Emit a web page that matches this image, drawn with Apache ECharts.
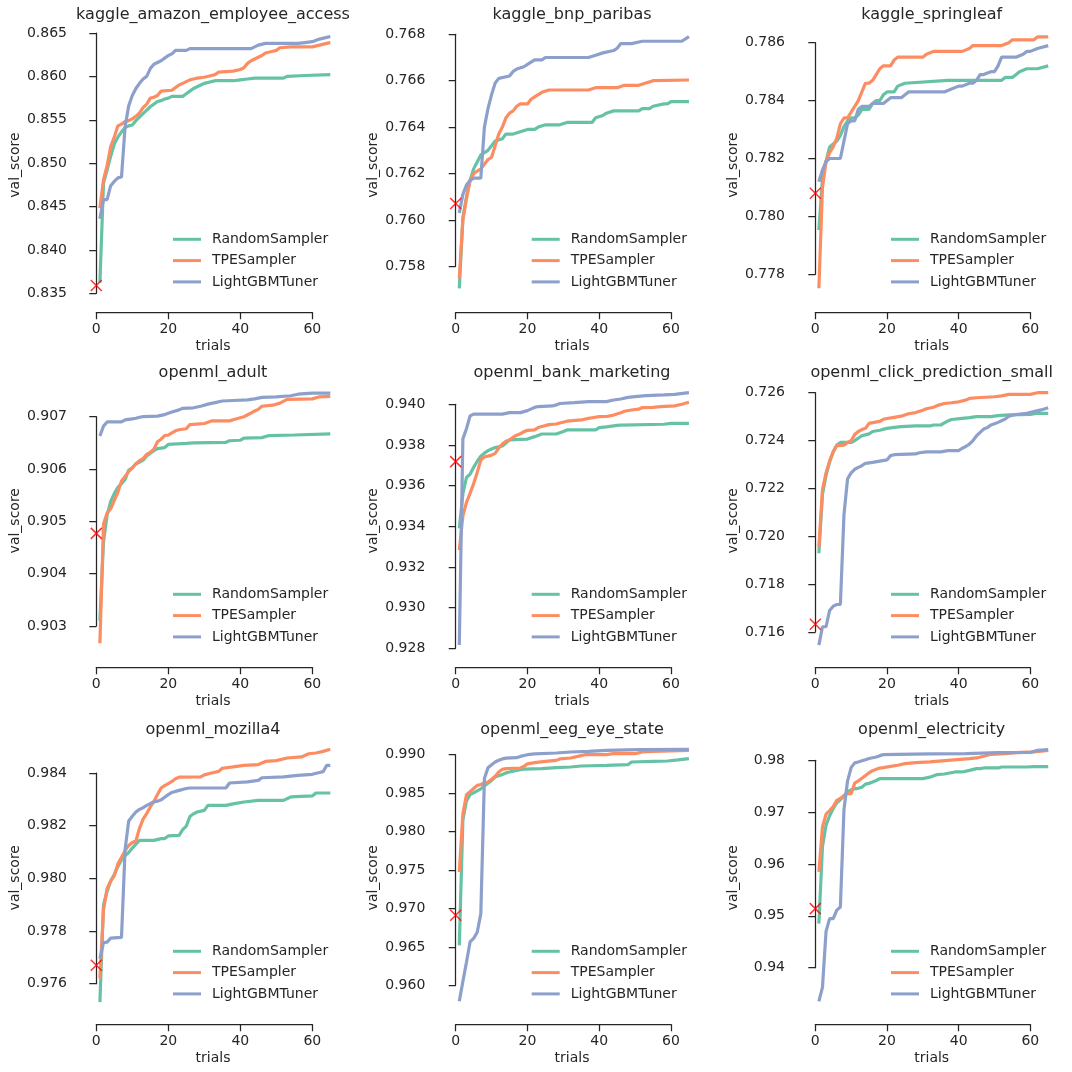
<!DOCTYPE html>
<html>
<head>
<meta charset="utf-8">
<script src="https://cdn.jsdelivr.net/npm/echarts@6/dist/echarts.min.js"></script>
<style>
  html, body { margin: 0; padding: 0; background: #ffffff; }
  #chart { width: 1072px; height: 1072px; }
</style>
</head>
<body>
<div id="chart"></div>
<script>
// ---- data ----
var datasets = ['kaggle_amazon_employee_access', 'kaggle_bnp_paribas', 'kaggle_springleaf',
                'openml_adult', 'openml_bank_marketing', 'openml_click_prediction_small',
                'openml_mozilla4', 'openml_eeg_eye_state', 'openml_electricity'];
var samplers = ['RandomSampler', 'TPESampler', 'LightGBMTuner'];
var xTicks = [0, 20, 40, 60];
var lastTrial = 65;
var yMin  = [0.835, 0.758, 0.778, 0.903, 0.928, 0.716, 0.976, 0.960, 0.94];
var yMax  = [0.865, 0.768, 0.786, 0.907, 0.940, 0.726, 0.984, 0.990, 0.98];
var yStep = [0.005, 0.002, 0.002, 0.001, 0.002, 0.002, 0.002, 0.005, 0.01];
var yDecimals = [3, 3, 3, 3, 3, 3, 3, 3, 2];
// score of the default model, drawn as a red cross at trial 0
var baseline = [0.8359, 0.76071, 0.78080, 0.90477, 0.93718, 0.71632, 0.97670, 0.96911, 0.95139];

// [trial, best val_score so far]
var amazonRandom = [[1,0.8362],[2,0.8477],[3,0.8492],[4,0.8508],[5,0.8522],[6,0.8530],[7,0.8536],[8,0.8541],[9,0.8543],[10,0.8544],[11,0.8549],[12,0.8553],[13,0.8557],[14,0.8561],[15,0.8565],[16,0.8568],[17,0.8571],[18,0.8572],[19,0.8574],[20,0.8575],[21,0.8577],[24,0.8577],[25,0.8580],[26,0.8583],[27,0.8586],[28,0.8588],[29,0.8590],[30,0.8592],[31,0.8593],[32,0.8594],[33,0.8595],[38,0.8595],[40,0.8596],[42,0.8597],[44,0.8598],[52,0.8598],[53,0.8600],[58,0.8601],[65,0.8602]];
var amazonTPE = [[1,0.8448],[2,0.8481],[3,0.8497],[4,0.8519],[5,0.8530],[6,0.8543],[7,0.8545],[8,0.8548],[9,0.8549],[10,0.8551],[11,0.8554],[12,0.8558],[13,0.8564],[14,0.8568],[15,0.8575],[16,0.8576],[17,0.8578],[18,0.8583],[21,0.8584],[22,0.8587],[23,0.8590],[24,0.8592],[25,0.8594],[26,0.8596],[27,0.8597],[28,0.8598],[30,0.8599],[32,0.8601],[33,0.8602],[34,0.8605],[38,0.8606],[40,0.8608],[41,0.8610],[42,0.8615],[43,0.8618],[44,0.8620],[45,0.8622],[46,0.8624],[47,0.8627],[49,0.8629],[50,0.8630],[51,0.8633],[54,0.8634],[60,0.8634],[62,0.8636],[64,0.8638],[65,0.8639]];
var amazonLGBM = [[1,0.8436],[2,0.8458],[3,0.8458],[4,0.8474],[5,0.8479],[6,0.8483],[7,0.8484],[8,0.8542],[9,0.8566],[10,0.8578],[11,0.8586],[12,0.8592],[13,0.8597],[14,0.8600],[15,0.8609],[16,0.8614],[17,0.8616],[18,0.8618],[19,0.8621],[20,0.8624],[21,0.8626],[22,0.8630],[25,0.8630],[26,0.8632],[43,0.8632],[44,0.8634],[45,0.8636],[47,0.8638],[56,0.8638],[58,0.8639],[60,0.8640],[62,0.8643],[64,0.8645],[65,0.8646]];

var bnpRandom = [[1,0.75705],[2,0.7601],[3,0.7610],[4,0.7617],[5,0.7622],[6,0.7625],[7,0.7628],[8,0.7629],[9,0.7630],[10,0.7632],[11,0.7634],[13,0.7635],[14,0.7637],[16,0.7637],[18,0.7638],[20,0.7639],[22,0.7639],[23,0.7640],[25,0.7641],[29,0.7641],[31,0.7642],[38,0.7642],[39,0.7644],[41,0.7645],[42,0.7646],[44,0.7647],[51,0.7647],[52,0.7648],[54,0.7648],[55,0.7649],[58,0.7650],[59,0.7650],[60,0.7651],[65,0.7651]];
var bnpTPE = [[1,0.75748],[2,0.7600],[3,0.7609],[4,0.7617],[5,0.7620],[6,0.7621],[7,0.7622],[8,0.7624],[9,0.7626],[10,0.7627],[11,0.7632],[12,0.7637],[13,0.7640],[14,0.7644],[15,0.7646],[16,0.7647],[17,0.7649],[18,0.7650],[20,0.7650],[21,0.7652],[22,0.7653],[23,0.7654],[24,0.7655],[26,0.7656],[37,0.7656],[39,0.7657],[45,0.7657],[47,0.7658],[51,0.7658],[53,0.7659],[55,0.7660],[65,0.76603]];
var bnpLGBM = [[1,0.7603],[2,0.7611],[3,0.7615],[4,0.7617],[5,0.7618],[7,0.7618],[8,0.7640],[9,0.7648],[10,0.7654],[11,0.7659],[12,0.7661],[15,0.7662],[16,0.7664],[17,0.7665],[19,0.7666],[20,0.7667],[22,0.7669],[24,0.7669],[25,0.7670],[37,0.7670],[39,0.7671],[41,0.7672],[44,0.7673],[45,0.7674],[46,0.7676],[49,0.7676],[52,0.7677],[63,0.7677],[65,0.7679]];

var springRandom = [[1,0.77953],[2,0.7813],[3,0.7819],[4,0.7824],[5,0.7825],[6,0.7826],[7,0.7828],[8,0.7831],[9,0.7833],[10,0.7834],[11,0.7834],[12,0.7835],[13,0.7837],[15,0.7837],[16,0.7839],[17,0.7840],[18,0.7840],[19,0.7842],[20,0.7843],[22,0.7843],[23,0.7845],[25,0.7846],[37,0.7847],[52,0.7847],[53,0.7848],[55,0.7848],[57,0.7850],[59,0.7851],[62,0.7851],[65,0.7852]];
var springTPE = [[1,0.77752],[2,0.7810],[3,0.7819],[4,0.7822],[5,0.7824],[6,0.7827],[7,0.7832],[8,0.7834],[9,0.7834],[10,0.7836],[11,0.7838],[12,0.7840],[13,0.7843],[14,0.7846],[15,0.7846],[16,0.7847],[17,0.7849],[18,0.7851],[19,0.7852],[21,0.7852],[22,0.7854],[23,0.7855],[30,0.7855],[31,0.7856],[33,0.7857],[41,0.7857],[43,0.7858],[44,0.7859],[52,0.7859],[54,0.7860],[55,0.7861],[61,0.7861],[62,0.7862],[65,0.7862]];
var springLGBM = [[1,0.7812],[2,0.7816],[3,0.7819],[4,0.7820],[7,0.7820],[8,0.7826],[9,0.7832],[10,0.7833],[11,0.7833],[12,0.7837],[13,0.7838],[15,0.7838],[16,0.7839],[19,0.7839],[21,0.7841],[24,0.7841],[26,0.7843],[36,0.7843],[38,0.7844],[40,0.7845],[41,0.7845],[43,0.7846],[44,0.7846],[45,0.7847],[46,0.7849],[47,0.7849],[49,0.7850],[50,0.7850],[51,0.7852],[52,0.7855],[56,0.7855],[58,0.7856],[59,0.7857],[60,0.7857],[62,0.7858],[65,0.7859]];

var adultRandom = [[1,0.9031],[2,0.9046],[3,0.90512],[4,0.90538],[5,0.90553],[6,0.90565],[7,0.90572],[8,0.90580],[9,0.90598],[10,0.90602],[11,0.90610],[12,0.90613],[13,0.90617],[14,0.90625],[15,0.90630],[16,0.90635],[17,0.90639],[19,0.90641],[20,0.90647],[25,0.90649],[27,0.90650],[36,0.90651],[37,0.90654],[40,0.90655],[41,0.90659],[46,0.90660],[48,0.90664],[55,0.90665],[65,0.90667]];
var adultTPE = [[1,0.90267],[2,0.90495],[3,0.90516],[4,0.90524],[5,0.90540],[6,0.90556],[7,0.90577],[8,0.90586],[9,0.90595],[10,0.90602],[11,0.90610],[12,0.90616],[13,0.90620],[14,0.90628],[15,0.90632],[16,0.90638],[17,0.90652],[18,0.90657],[19,0.90664],[20,0.90665],[21,0.90669],[22,0.90673],[23,0.90675],[25,0.90677],[26,0.90685],[30,0.90687],[32,0.90692],[37,0.90692],[39,0.90696],[41,0.90700],[43,0.90707],[44,0.90711],[45,0.90714],[46,0.90720],[49,0.90722],[51,0.90726],[53,0.90733],[60,0.90734],[62,0.90738],[65,0.90739]];
var adultLGBM = [[1,0.90663],[2,0.90682],[3,0.90690],[7,0.90690],[8,0.90694],[10,0.90696],[11,0.90697],[12,0.90699],[13,0.90700],[17,0.90701],[19,0.90704],[21,0.90709],[23,0.90713],[24,0.90716],[27,0.90717],[29,0.90720],[31,0.90724],[33,0.90727],[35,0.90730],[38,0.90731],[42,0.90732],[44,0.90734],[46,0.90737],[50,0.90738],[54,0.90740],[56,0.90743],[60,0.90745],[65,0.90745]];

var bankRandom = [[1,0.93390],[2,0.93560],[3,0.93640],[4,0.93656],[5,0.93690],[6,0.93720],[7,0.93745],[8,0.93760],[9,0.93772],[10,0.93780],[11,0.93787],[13,0.93795],[14,0.93810],[15,0.93825],[20,0.93829],[22,0.93841],[24,0.93854],[28,0.93854],[30,0.93866],[31,0.93874],[39,0.93874],[40,0.93885],[42,0.93889],[45,0.93896],[46,0.93898],[58,0.93902],[60,0.93906],[65,0.93906]];
var bankTPE = [[1,0.93283],[2,0.93450],[3,0.93518],[4,0.93562],[5,0.93610],[6,0.93665],[7,0.93725],[8,0.93742],[9,0.93745],[10,0.93750],[11,0.93759],[12,0.93785],[13,0.93805],[14,0.93818],[15,0.93825],[16,0.93838],[17,0.93848],[18,0.93855],[19,0.93865],[20,0.93872],[22,0.93874],[23,0.93886],[24,0.93891],[26,0.93900],[28,0.93903],[29,0.93908],[31,0.93917],[35,0.93923],[37,0.93931],[38,0.93934],[40,0.93939],[42,0.93940],[44,0.93947],[46,0.93958],[47,0.93966],[49,0.93972],[51,0.93976],[52,0.93984],[55,0.93985],[57,0.93989],[61,0.93992],[63,0.94000],[65,0.94010]];
var bankLGBM = [[1,0.92816],[2,0.93830],[3,0.93880],[4,0.93943],[5,0.93952],[13,0.93952],[15,0.93959],[18,0.93959],[20,0.93969],[22,0.93985],[23,0.93989],[27,0.93992],[28,0.93997],[29,0.94004],[33,0.94008],[37,0.94013],[42,0.94013],[44,0.94021],[46,0.94026],[48,0.94034],[50,0.94038],[53,0.94043],[58,0.94046],[61,0.94049],[65,0.94057]];

var clickRandom = [[1,0.71929],[2,0.72175],[3,0.72255],[4,0.72310],[5,0.72353],[6,0.72381],[7,0.72392],[10,0.72392],[11,0.72400],[12,0.72410],[13,0.72420],[15,0.72428],[16,0.72438],[18,0.72443],[20,0.72451],[22,0.72455],[24,0.72458],[28,0.72461],[32,0.72461],[33,0.72465],[35,0.72465],[37,0.72482],[38,0.72488],[41,0.72493],[43,0.72496],[45,0.72500],[49,0.72500],[51,0.72504],[54,0.72507],[60,0.72509],[62,0.72514],[65,0.72514]];
var clickTPE = [[1,0.71956],[2,0.72195],[3,0.72265],[4,0.72315],[5,0.72353],[6,0.72379],[8,0.72381],[9,0.72392],[10,0.72399],[11,0.72425],[12,0.72438],[13,0.72446],[14,0.72451],[15,0.72472],[16,0.72475],[18,0.72480],[19,0.72489],[20,0.72492],[22,0.72497],[24,0.72502],[25,0.72507],[26,0.72512],[28,0.72517],[30,0.72527],[31,0.72533],[33,0.72539],[34,0.72546],[36,0.72555],[38,0.72558],[40,0.72562],[42,0.72569],[43,0.72576],[45,0.72579],[50,0.72583],[52,0.72587],[54,0.72593],[60,0.72593],[62,0.72600],[65,0.72600]];
var clickLGBM = [[1,0.71545],[2,0.71622],[3,0.71622],[4,0.71690],[5,0.71708],[6,0.71715],[7,0.71715],[8,0.72090],[9,0.72240],[10,0.72265],[11,0.72280],[12,0.72288],[13,0.72295],[14,0.72305],[16,0.72309],[18,0.72314],[20,0.72319],[21,0.72337],[22,0.72341],[28,0.72344],[29,0.72349],[31,0.72353],[35,0.72353],[37,0.72358],[40,0.72358],[41,0.72368],[42,0.72375],[43,0.72385],[44,0.72400],[45,0.72420],[46,0.72434],[47,0.72448],[48,0.72454],[49,0.72465],[50,0.72470],[51,0.72476],[53,0.72490],[54,0.72502],[56,0.72509],[59,0.72514],[61,0.72521],[63,0.72528],[65,0.72537]];

var mozillaRandom = [[1,0.97530],[2,0.97900],[3,0.97950],[4,0.97990],[5,0.98015],[6,0.98045],[7,0.98070],[8,0.98087],[9,0.98098],[10,0.98115],[11,0.98130],[12,0.98144],[16,0.98144],[18,0.98151],[19,0.98151],[20,0.98161],[23,0.98163],[24,0.98185],[25,0.98198],[26,0.98235],[27,0.98245],[28,0.98252],[30,0.98258],[31,0.98277],[36,0.98277],[38,0.98283],[41,0.98290],[45,0.98296],[52,0.98296],[54,0.98309],[60,0.98313],[61,0.98324],[65,0.98324]];
var mozillaTPE = [[1,0.97620],[2,0.97880],[3,0.97962],[4,0.97990],[5,0.98010],[6,0.98055],[7,0.98080],[8,0.98105],[9,0.98125],[10,0.98136],[11,0.98142],[12,0.98190],[13,0.98225],[14,0.98246],[15,0.98271],[16,0.98292],[17,0.98318],[18,0.98343],[19,0.98352],[20,0.98360],[21,0.98368],[22,0.98378],[23,0.98384],[29,0.98385],[30,0.98393],[32,0.98400],[34,0.98406],[35,0.98418],[38,0.98423],[41,0.98429],[45,0.98432],[46,0.98438],[47,0.98444],[50,0.98447],[53,0.98457],[57,0.98461],[59,0.98473],[61,0.98476],[63,0.98482],[65,0.98490]];
var mozillaLGBM = [[1,0.97695],[2,0.97756],[3,0.97758],[4,0.97773],[7,0.97776],[8,0.98110],[9,0.98218],[10,0.98236],[11,0.98252],[12,0.98262],[13,0.98268],[14,0.98277],[15,0.98284],[16,0.98290],[17,0.98293],[18,0.98298],[19,0.98308],[20,0.98318],[21,0.98326],[23,0.98334],[25,0.98341],[26,0.98343],[36,0.98343],[37,0.98362],[42,0.98366],[45,0.98372],[46,0.98382],[52,0.98385],[56,0.98391],[60,0.98395],[62,0.98402],[63,0.98405],[64,0.98429],[65,0.98429]];

var eegRandom = [[1,0.96520],[2,0.98150],[3,0.98400],[4,0.98480],[5,0.98505],[6,0.98530],[7,0.98555],[8,0.98595],[9,0.98630],[10,0.98665],[11,0.98710],[12,0.98728],[13,0.98743],[14,0.98763],[15,0.98775],[16,0.98786],[17,0.98795],[18,0.98806],[19,0.98812],[24,0.98818],[28,0.98831],[32,0.98840],[35,0.98853],[42,0.98861],[48,0.98870],[49,0.98905],[55,0.98913],[59,0.98918],[62,0.98932],[65,0.98948]];
var eegTPE = [[1,0.97474],[2,0.98230],[3,0.98480],[4,0.98520],[5,0.98560],[6,0.98601],[7,0.98612],[8,0.98636],[9,0.98645],[10,0.98680],[11,0.98720],[12,0.98775],[13,0.98810],[14,0.98818],[18,0.98827],[19,0.98848],[20,0.98880],[22,0.98896],[25,0.98913],[28,0.98926],[29,0.98945],[32,0.98957],[34,0.98978],[36,0.99000],[42,0.99000],[44,0.99013],[50,0.99013],[52,0.99035],[55,0.99043],[65,0.99056]];
var eegLGBM = [[1,0.95792],[2,0.96050],[3,0.96300],[4,0.96564],[5,0.96610],[6,0.96690],[7,0.96932],[8,0.98690],[9,0.98830],[10,0.98870],[11,0.98905],[12,0.98928],[13,0.98945],[14,0.98955],[17,0.98961],[18,0.98978],[20,0.99000],[22,0.99010],[28,0.99022],[32,0.99035],[37,0.99043],[42,0.99056],[51,0.99065],[65,0.99069]];

var elecRandom = [[1,0.94849],[2,0.96330],[3,0.96750],[4,0.96930],[5,0.97070],[6,0.97183],[7,0.97240],[8,0.97310],[9,0.97400],[10,0.97430],[11,0.97453],[12,0.97460],[13,0.97480],[14,0.97540],[15,0.97555],[16,0.97580],[17,0.97610],[18,0.97646],[30,0.97646],[32,0.97675],[34,0.97724],[36,0.97736],[39,0.97775],[41,0.97775],[43,0.97805],[45,0.97839],[46,0.97839],[47,0.97852],[51,0.97852],[52,0.97871],[59,0.97871],[61,0.97878],[65,0.97878]];
var elecTPE = [[1,0.95846],[2,0.96714],[3,0.96960],[4,0.97030],[5,0.97110],[6,0.97228],[7,0.97265],[8,0.97320],[9,0.97357],[10,0.97357],[11,0.97560],[12,0.97601],[13,0.97655],[14,0.97705],[15,0.97760],[16,0.97800],[17,0.97826],[18,0.97850],[19,0.97860],[21,0.97884],[23,0.97904],[25,0.97936],[28,0.97955],[32,0.97968],[37,0.98000],[43,0.98032],[45,0.98045],[47,0.98077],[49,0.98116],[53,0.98129],[56,0.98148],[61,0.98161],[65,0.98193]];
var elecLGBM = [[1,0.93351],[2,0.93620],[3,0.94700],[4,0.94946],[5,0.94946],[6,0.95110],[7,0.95171],[8,0.97050],[9,0.97600],[10,0.97860],[11,0.97950],[12,0.97968],[13,0.97990],[14,0.98010],[15,0.98035],[17,0.98064],[18,0.98090],[19,0.98109],[23,0.98116],[32,0.98122],[42,0.98129],[51,0.98148],[60,0.98150],[62,0.98193],[65,0.98206]];

var curves = [
    [amazonRandom, amazonTPE, amazonLGBM],
    [bnpRandom, bnpTPE, bnpLGBM],
    [springRandom, springTPE, springLGBM],
    [adultRandom, adultTPE, adultLGBM],
    [bankRandom, bankTPE, bankLGBM],
    [clickRandom, clickTPE, clickLGBM],
    [mozillaRandom, mozillaTPE, mozillaLGBM],
    [eegRandom, eegTPE, eegLGBM],
    [elecRandom, elecTPE, elecLGBM]
];

// ---- layout (pixels) ----
// x of trial 0 / trial 60 per column, y of top / bottom tick per panel
var colX0 = [96.3, 455.7, 815.3];
var colX60 = [312.3, 671, 1030.3];
var colSpine = [76, 434.3, 794];
var colCenter = [213, 572, 931.7];
var panelTop = [33, 34.3, 42.7, 416.7, 404.3, 392.7, 773, 754.7, 760.3];
var panelBottom = [293.3, 266.3, 274.3, 626, 648.3, 632, 983.7, 985.3, 967.7];
var rowSpine = [312.3, 667.3, 1024.3];
var rowLabelY = [165, 520.7, 877.7];
var rowTitleTop = [7, 364.5, 721.5];
var rowLegendTop = [232.3, 587.3, 944.3];
var colLegendLeft = [173, 531.7, 891];

var colors = ['#66c2a5', '#fc8d62', '#8da0cb'];
var ink = '#262626';
var font = 'DejaVu Sans';
var n = datasets.length;

var grids = [], xAxes = [], yAxes = [], series = [], titles = [], legends = [];

// grids 0..8 carry the trimmed spines (trial 0..60), grids 9..17 carry the data (trial 0..65)
datasets.forEach(function (name, i) {
    var row = Math.floor(i / 3), col = i % 3;
    var left = colX0[col], width = colX60[col] - colX0[col];
    var top = panelTop[i], height = panelBottom[i] - panelTop[i];
    var dy = rowLabelY[row] - (top + height / 2);
    var dx = colCenter[col] - (left + width / 2);
    var dec = yDecimals[i];
    var xMax = xTicks[xTicks.length - 1];

    grids[i] = { left: left, top: top, width: width, height: height };
    grids[n + i] = { left: left, top: top, width: width * lastTrial / xMax, height: height };

    titles.push({
        text: name, left: colCenter[col], top: rowTitleTop[row], textAlign: 'center', padding: 0,
        textStyle: { fontFamily: font, fontSize: 16, fontWeight: 'normal', color: ink }
    });

    xAxes[i] = {
        type: 'value', gridIndex: i, min: xTicks[0], max: xMax, interval: 20,
        offset: rowSpine[row] - panelBottom[i],
        name: 'trials', nameLocation: 'middle', nameGap: 27,
        nameTextStyle: { fontFamily: font, fontSize: 14, color: ink, padding: [0, 0, 0, 2 * dx] },
        axisLine: { show: true, lineStyle: { color: ink, width: 1.25 } },
        axisTick: { show: true, length: 7, lineStyle: { color: ink, width: 1.25 } },
        axisLabel: { margin: 10, fontFamily: font, fontSize: 14, color: ink },
        splitLine: { show: false }
    };
    xAxes[n + i] = { type: 'value', gridIndex: n + i, min: 0, max: lastTrial, show: false };

    yAxes[i] = {
        type: 'value', gridIndex: i, min: yMin[i], max: yMax[i], interval: yStep[i],
        offset: colX0[col] - colSpine[col],
        name: 'val_score', nameLocation: 'middle', nameRotate: 90, nameGap: 54,
        nameTextStyle: {
            fontFamily: font, fontSize: 14, color: ink,
            padding: dy >= 0 ? [0, 2 * dy, 0, 0] : [0, 0, 0, -2 * dy]
        },
        axisLine: { show: true, lineStyle: { color: ink, width: 1.25 } },
        axisTick: { show: true, length: 7, lineStyle: { color: ink, width: 1.25 } },
        axisLabel: {
            margin: 9, fontFamily: font, fontSize: 14, color: ink,
            formatter: function (v) { return v.toFixed(dec); }
        },
        splitLine: { show: false }
    };
    yAxes[n + i] = { type: 'value', gridIndex: n + i, min: yMin[i], max: yMax[i], show: false };

    samplers.forEach(function (s, j) {
        series.push({
            type: 'line', name: s, xAxisIndex: n + i, yAxisIndex: n + i,
            data: curves[i][j], showSymbol: false, symbol: 'none', clip: false, silent: true,
            lineStyle: { width: 3.2, color: colors[j] }, itemStyle: { color: colors[j] },
            z: 2 + j
        });
    });

    series.push({
        type: 'scatter', xAxisIndex: n + i, yAxisIndex: n + i, data: [[0, baseline[i]]],
        symbol: 'path://M0,0L10,10M10,0L0,10', symbolSize: 11, clip: false, silent: true,
        itemStyle: { color: 'none', borderColor: '#ff0000', borderWidth: 1.5 },
        z: 10
    });

    legends.push({
        data: samplers, orient: 'vertical', left: colLegendLeft[col], top: rowLegendTop[row],
        icon: 'rect', itemWidth: 28, itemHeight: 3, itemGap: 7.3, padding: 0,
        selectedMode: false,
        textStyle: { fontFamily: font, fontSize: 14, color: ink, padding: [0, 0, 0, 6] }
    });
});

var chart = echarts.init(document.getElementById('chart'));
chart.setOption({
    animation: false,
    backgroundColor: '#ffffff',
    title: titles,
    legend: legends,
    grid: grids,
    xAxis: xAxes,
    yAxis: yAxes,
    series: series
});
window.onresize = chart.resize;
</script>
</body>
</html>
